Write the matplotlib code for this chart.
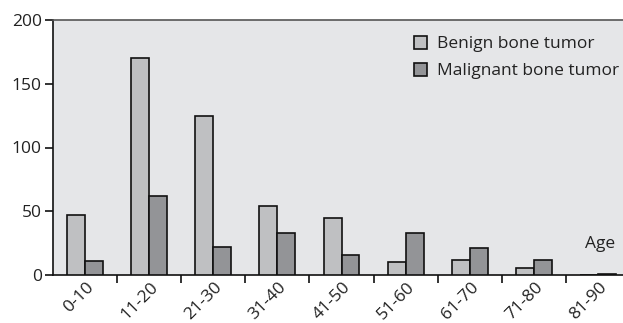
import matplotlib
matplotlib.use("Agg")
import matplotlib.pyplot as plt
import matplotlib.transforms as mtransforms
import numpy as np

categories = ["0-10", "11-20", "21-30", "31-40", "41-50", "51-60", "61-70", "71-80", "81-90"]
benign = [47, 170, 125, 54, 45, 10, 12, 5.5, 0]
malignant = [11, 62, 22, 33, 16, 33, 21, 11.5, 1]
yticks = [0, 50, 100, 150, 200]

plt.rcParams['font.family'] = ['Open Sans', 'DejaVu Sans']
FS = 12.5

fig = plt.figure(figsize=(6.23, 3.23), dpi=100)
ax = fig.add_axes([53/623, 1 - 275/323, 1 - 53/623, (275 - 20)/323])
ax.set_facecolor("#e5e6e8")

x = np.arange(len(categories))
w = 0.28
ax.bar(x - w/2, benign, width=w, color="#bfc0c2", edgecolor="#111111", linewidth=1.2, label="Benign bone tumor", zorder=3)
ax.bar(x + w/2, malignant, width=w, color="#939497", edgecolor="#111111", linewidth=1.2, label="Malignant bone tumor", zorder=3)

ax.set_xlim(-0.5, len(categories) - 1 + 25/64)
ax.set_ylim(0, 200)
ax.set_yticks(yticks)
ax.set_yticklabels([str(v) for v in yticks], fontsize=FS, color="#222222")

ax.set_xticks(np.arange(len(categories) - 1) + 0.5)
ax.set_xticklabels([])
ax.set_xticks(x, minor=True)
ax.set_xticklabels(categories, minor=True, rotation=45, ha="right", va="top",
                   rotation_mode="anchor", fontsize=FS, color="#222222")
ax.tick_params(axis="x", which="minor", length=0, pad=3)
ax.tick_params(axis="x", which="major", length=6, width=1.2, direction="out", color="#111111")
ax.tick_params(axis="y", length=6, width=1.2, direction="out", color="#111111", pad=2)
offset = mtransforms.ScaledTranslation(1/100, 0, fig.dpi_scale_trans)
for lbl in ax.get_xticklabels(minor=True):
    lbl.set_transform(lbl.get_transform() + offset)

ax.spines["right"].set_visible(False)
ax.spines["top"].set_color("#555555")
ax.spines["top"].set_linewidth(1.2)
ax.spines["left"].set_color("#111111")
ax.spines["left"].set_linewidth(1.2)
ax.spines["bottom"].set_color("#111111")
ax.spines["bottom"].set_linewidth(1.2)

leg = ax.legend(loc="upper left", bbox_to_anchor=((402 - 53)/570, 0.985), frameon=False,
                fontsize=FS, handlelength=0.75, handleheight=0.75, handletextpad=0.55,
                labelspacing=0.6, borderpad=0.2)
for t in leg.get_texts():
    t.set_color("#222222")

ax.text(0.986, 0.106, "Age", transform=ax.transAxes, ha="right", va="baseline",
        fontsize=FS, color="#222222")

fig.savefig("out.png", dpi=100)
